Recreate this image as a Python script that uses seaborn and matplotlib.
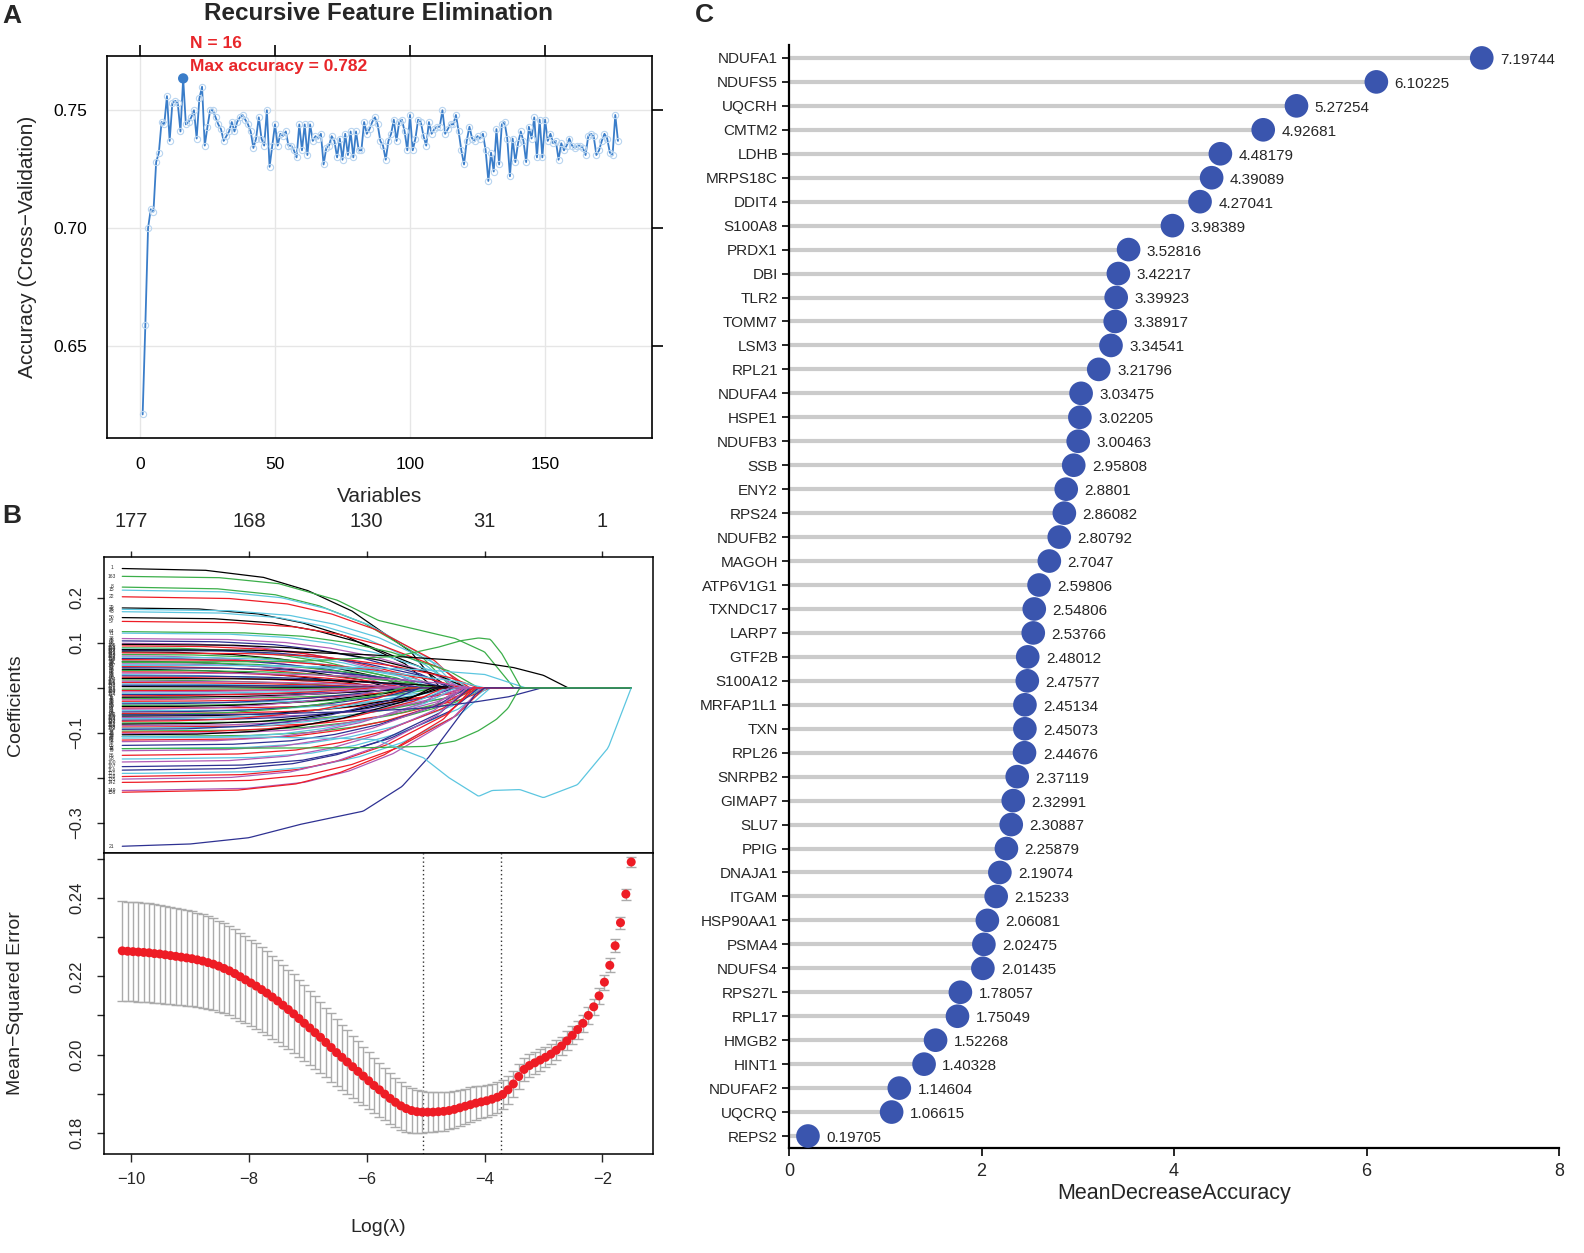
import numpy as np
import pandas as pd
import matplotlib
matplotlib.use("Agg")
import matplotlib.pyplot as plt
import seaborn as sns

sns.set_theme(style="white")
plt.rcParams["font.family"] = ["Liberation Sans", "DejaVu Sans"]
plt.rcParams["axes.unicode_minus"] = True

# ---------------- Panel A data: RFE accuracy by number of variables ----------------
RFE_ACCURACY = [
    0.621, 0.659, 0.700, 0.708, 0.707, 0.728, 0.732, 0.745, 0.744, 0.756,
    0.737, 0.753, 0.754, 0.753, 0.741, 0.7635, 0.744, 0.745, 0.747, 0.750,
    0.738, 0.755, 0.760, 0.735, 0.743, 0.750, 0.750, 0.747, 0.744, 0.742,
    0.737, 0.739, 0.741, 0.745, 0.741, 0.745, 0.747, 0.748, 0.746, 0.744,
    0.741, 0.734, 0.738, 0.747, 0.738, 0.735, 0.750, 0.726, 0.735, 0.744,
    0.735, 0.740, 0.739, 0.741, 0.735, 0.735, 0.733, 0.730, 0.744, 0.733,
    0.744, 0.731, 0.744, 0.737, 0.739, 0.738, 0.740, 0.727, 0.734, 0.735,
    0.739, 0.737, 0.730, 0.738, 0.729, 0.740, 0.731, 0.741, 0.730, 0.741,
    0.733, 0.733, 0.745, 0.740, 0.742, 0.745, 0.747, 0.744, 0.737, 0.735,
    0.729, 0.737, 0.740, 0.746, 0.737, 0.745, 0.746, 0.741, 0.733, 0.748,
    0.733, 0.738, 0.746, 0.745, 0.739, 0.735, 0.745, 0.740, 0.742, 0.743,
    0.743, 0.750, 0.740, 0.742, 0.744, 0.744, 0.748, 0.741, 0.733, 0.727,
    0.737, 0.743, 0.738, 0.737, 0.739, 0.738, 0.740, 0.733, 0.720, 0.732,
    0.724, 0.742, 0.727, 0.744, 0.745, 0.738, 0.722, 0.738, 0.728, 0.736,
    0.741, 0.737, 0.728, 0.743, 0.738, 0.747, 0.730, 0.746, 0.730, 0.746,
    0.737, 0.740, 0.736, 0.737, 0.729, 0.736, 0.733, 0.735, 0.738, 0.735,
    0.734, 0.735, 0.735, 0.734, 0.731, 0.739, 0.740, 0.739, 0.731, 0.733,
    0.737, 0.740, 0.738, 0.732, 0.731, 0.748, 0.737,
]
RFE_BEST_N = 16
RFE_TEXT = ["N = 16", "Max accuracy = 0.782"]

# ---------------- Panel B data: LASSO ----------------
LOGLAM_FIRST, LOGLAM_LAST = -10.15, -1.51
MSE_MEAN = [
    0.2265, 0.2264, 0.2263, 0.2262, 0.2261, 0.2260, 0.2258, 0.2257, 0.2255, 0.2253,
    0.2251, 0.2249, 0.2247, 0.2245, 0.2242, 0.2239, 0.2235, 0.2231, 0.2226, 0.2220,
    0.2214, 0.2207, 0.2199, 0.2191, 0.2183, 0.2175, 0.2166, 0.2157, 0.2147, 0.2137,
    0.2126, 0.2115, 0.2104, 0.2092, 0.2080, 0.2068, 0.2056, 0.2044, 0.2031, 0.2018,
    0.2005, 0.1993, 0.1981, 0.1969, 0.1957, 0.1945, 0.1933, 0.1921, 0.1910, 0.1899,
    0.1888, 0.1878, 0.1869, 0.1862, 0.1857, 0.1854, 0.1853, 0.1853, 0.1853, 0.1854,
    0.1855, 0.1857, 0.1860, 0.1864, 0.1868, 0.1872, 0.1876, 0.1879, 0.1882, 0.1886,
    0.1891, 0.1898, 0.1910, 0.1925, 0.1944, 0.1962, 0.1972, 0.1979, 0.1986, 0.1993,
    0.2001, 0.2011, 0.2022, 0.2035, 0.2049, 0.2064, 0.2080, 0.2100, 0.2122, 0.2150,
    0.2185, 0.2228, 0.2278, 0.2337, 0.2410, 0.2492,
]
MSE_SE = [
    0.0127, 0.0127, 0.0127, 0.0127, 0.0126, 0.0126, 0.0126, 0.0125, 0.0125, 0.0124, 0.0124, 0.0123, 0.0122,
    0.0121, 0.0120, 0.0119, 0.0118, 0.0117, 0.0116, 0.0115, 0.0114, 0.0113, 0.0112, 0.0111, 0.0110, 0.0109,
    0.0108, 0.0107, 0.0106, 0.0105, 0.0104, 0.0102, 0.0101, 0.0099, 0.0097, 0.0095, 0.0093, 0.0091, 0.0089,
    0.0087, 0.0085, 0.0083, 0.0081, 0.0079, 0.0077, 0.0075, 0.0073, 0.0071, 0.0069, 0.0067, 0.0065, 0.0063,
    0.0061, 0.0059, 0.0057, 0.0055, 0.0053, 0.0052, 0.0051, 0.0050, 0.0049, 0.0048, 0.0047, 0.0046, 0.0045,
    0.0044, 0.0043, 0.0042, 0.0041, 0.0040, 0.0039, 0.0038, 0.0036, 0.0034, 0.0032, 0.0030, 0.0029, 0.0028,
    0.0027, 0.0026, 0.0025, 0.0025, 0.0024, 0.0024, 0.0023, 0.0023, 0.0022, 0.0022, 0.0021, 0.0020, 0.0019,
    0.0018, 0.0017, 0.0015, 0.0014, 0.0012,
]
LAMBDA_MIN = -5.04
LAMBDA_1SE = -3.72
NVARS_POS = [-10, -8, -6, -4, -2]
NVARS_LABELS = ["177", "168", "130", "31", "1"]

# coefficient paths: starting coefficient, log(lambda) where it reaches 0, colour code
PATH_START = [
    0.267, 0.225, 0.218, 0.203, 0.179, 0.175, 0.170, 0.157, 0.148, 0.125, 0.122,
    0.110, 0.105, 0.100, 0.097, 0.094, 0.090, 0.087, 0.084, 0.081, 0.078,
    0.075, 0.072, 0.069, 0.066, 0.063, 0.060, 0.057, 0.054, 0.051, 0.048,
    0.045, 0.042, 0.039, 0.036, 0.033, 0.030, 0.027, 0.024, 0.021, 0.018,
    0.015, 0.012, 0.009, 0.006, 0.003, -0.003, -0.006, -0.009, -0.012, -0.015,
    -0.018, -0.021, -0.024, -0.027, -0.030, -0.033, -0.036, -0.039, -0.042, -0.045,
    -0.048, -0.051, -0.054, -0.057, -0.060, -0.063, -0.066, -0.069, -0.072, -0.075,
    -0.078, -0.081, -0.084, -0.087, -0.090, -0.093, -0.096, -0.099, -0.102, -0.105,
    -0.108, -0.112, -0.116, -0.120, -0.128, -0.135, -0.140, -0.150, -0.158, -0.165,
    -0.175, -0.183, -0.190, -0.197, -0.203, -0.210, -0.228, -0.232,
]
PATH_ZERO = [
    -4.75, -4.55, -4.45, -4.35, -4.85, -4.30, -4.50, -4.60, -4.25, -4.10, -4.35,
    -4.40, -4.60, -5.00, -4.30, -4.80, -5.20, -4.90, -4.50, -5.30, -4.10,
    -5.00, -5.50, -4.70, -5.20, -4.40, -5.60, -4.90, -5.10, -4.00, -5.40,
    -4.60, -5.80, -4.80, -5.30, -4.20, -5.90, -5.00, -5.50, -4.50, -6.00,
    -5.20, -5.70, -6.20, -5.40, -6.40, -6.30, -5.50, -6.10, -5.60, -4.90,
    -5.90, -5.30, -4.70, -5.80, -5.00, -4.40, -5.50, -4.80, -5.20, -4.10,
    -5.60, -4.60, -5.10, -4.30, -5.40, -4.70, -4.00, -5.00, -4.50, -5.30,
    -4.20, -4.80, -4.40, -3.90, -4.60, -5.10, -4.10, -4.70, -4.30, -4.90,
    -4.00, -4.50, -4.20, -4.60, -4.30, -4.05, -4.40, -4.20, -3.95, -4.35,
    -4.10, -4.25, -3.90, -4.15, -4.30, -4.00, -4.05, -4.20,
]
PATH_COLOR = (
    "kgcrkcckrgc"
    "mbmkrgcbkr"
    "gmcbrkgmcr"
    "bkgrmcbrkg"
    "mrcbkgrmcb"
    "rkgmrcbgkr"
    "mcbrgkmcbr"
    "gkmrcbgrmk"
    "gcrmbcmrcm"
    "bbcrmrmr"
)
# typical shrinkage profile: fraction of start coefficient vs distance to zero point
SHRINK_DIST = [0.0, 0.25, 0.5, 1.0, 1.5, 2.25, 3.0, 4.0, 6.0]
SHRINK_FRAC = [0.0, 0.15, 0.30, 0.47, 0.64, 0.81, 0.92, 0.98, 1.0]

# individually traced paths (log lambda, coefficient, colour)
SPECIAL_PATHS = {
    "green_top": ([-10.15, -8.5, -7.5, -6.5, -5.8, -5.0, -4.5, -4.0, -3.5, -1.51],
                  [0.248, 0.245, 0.232, 0.195, 0.150, 0.125, 0.110, 0.080, 0.0, 0.0], "g"),
    "black_long": ([-10.15, -8.0, -6.0, -5.0, -4.2, -3.5, -3.0, -2.58, -1.51],
                   [0.085, 0.084, 0.074, 0.066, 0.059, 0.045, 0.028, 0.0, 0.0], "k"),
    "cyan_long": ([-10.15, -8.0, -6.0, -5.0, -4.0, -3.3, -1.51],
                  [0.050, 0.050, 0.045, 0.040, 0.030, 0.0, 0.0], "c"),
    "blue_long": ([-10.15, -8.0, -6.0, -5.0, -4.2, -3.6, -3.03, -1.51],
                  [-0.060, -0.059, -0.052, -0.045, -0.032, -0.020, 0.0, 0.0], "b"),
    "green_neg": ([-10.15, -8.0, -6.0, -5.0, -4.5, -4.1, -3.8, -3.6, -3.4, -1.51],
                  [-0.135, -0.134, -0.133, -0.130, -0.118, -0.095, -0.070, -0.045, 0.0, 0.0], "g"),
    "blue_bottom": ([-10.15, -9.0, -8.0, -7.15, -6.06, -5.4, -4.96, -4.53, -4.16, -4.0, -1.51],
                    [-0.352, -0.347, -0.333, -0.304, -0.274, -0.219, -0.156, -0.081, -0.015, 0.0, 0.0], "b"),
    "cyan_wave": ([-10.15, -8.0, -6.5, -5.84, -5.04, -4.6, -4.1, -3.87, -3.4, -3.0, -2.42, -1.9, -1.51],
                  [-0.108, -0.109, -0.112, -0.115, -0.155, -0.200, -0.241, -0.228, -0.226, -0.244, -0.215, -0.133, 0.0], "c"),
    "green_rise": ([-10.15, -8.0, -7.0, -5.5, -4.8, -4.4, -4.1, -3.9, -3.7, -3.38, -1.51],
                   [0.058, 0.058, 0.060, 0.070, 0.090, 0.105, 0.111, 0.108, 0.075, 0.0, 0.0], "g"),
}
COLOR_MAP = {"k": "#000000", "r": "#EE1C25", "g": "#3BAE49", "b": "#2E3192",
             "c": "#5CC6E0", "m": "#B05BB5"}

# ---------------- Panel C data: random forest importance ----------------
GENES = ["NDUFA1", "NDUFS5", "UQCRH", "CMTM2", "LDHB", "MRPS18C", "DDIT4", "S100A8",
         "PRDX1", "DBI", "TLR2", "TOMM7", "LSM3", "RPL21", "NDUFA4", "HSPE1", "NDUFB3",
         "SSB", "ENY2", "RPS24", "NDUFB2", "MAGOH", "ATP6V1G1", "TXNDC17", "LARP7",
         "GTF2B", "S100A12", "MRFAP1L1", "TXN", "RPL26", "SNRPB2", "GIMAP7", "SLU7",
         "PPIG", "DNAJA1", "ITGAM", "HSP90AA1", "PSMA4", "NDUFS4", "RPS27L", "RPL17",
         "HMGB2", "HINT1", "NDUFAF2", "UQCRQ", "REPS2"]
MDA = [7.19744, 6.10225, 5.27254, 4.92681, 4.48179, 4.39089, 4.27041, 3.98389,
       3.52816, 3.42217, 3.39923, 3.38917, 3.34541, 3.21796, 3.03475, 3.02205, 3.00463,
       2.95808, 2.8801, 2.86082, 2.80792, 2.7047, 2.59806, 2.54806, 2.53766,
       2.48012, 2.47577, 2.45134, 2.45073, 2.44676, 2.37119, 2.32991, 2.30887,
       2.25879, 2.19074, 2.15233, 2.06081, 2.02475, 2.01435, 1.78057, 1.75049,
       1.52268, 1.40328, 1.14604, 1.06615, 0.19705]

W, H = 1584, 1253
fig = plt.figure(figsize=(W / 100, H / 100), dpi=100)
fig.patch.set_facecolor("white")


def box(x0, y0, x1, y1):
    return [x0 / W, 1 - y1 / H, (x1 - x0) / W, (y1 - y0) / H]


# ======================= Panel A =======================
axA = fig.add_axes(box(107, 56, 652, 438))
dfA = pd.DataFrame({"n": np.arange(1, len(RFE_ACCURACY) + 1), "acc": RFE_ACCURACY})
sns.lineplot(data=dfA, x="n", y="acc", ax=axA, color="#3A7DC9", lw=1.3,
             marker="o", markersize=4.5, markerfacecolor="none",
             markeredgecolor="#B9D5F0", markeredgewidth=0.8, zorder=3)
best = dfA[dfA["n"] == RFE_BEST_N]
sns.scatterplot(data=best, x="n", y="acc", ax=axA, color="#3A7DC9", s=55,
                edgecolor="none", zorder=4)
axA.set_xlim(-12.2, 189.6)
axA.set_ylim(0.611, 0.773)
axA.set_xticks([0, 50, 100, 150])
axA.set_yticks([0.65, 0.70, 0.75])
axA.set_yticklabels(["0.65", "0.70", "0.75"])
axA.grid(True, color="#E6E6E6", lw=1)
axA.set_axisbelow(True)
axA.tick_params(axis="both", direction="out", length=8, width=1.2, colors="black",
                top=True, right=True, left=False, bottom=False, labelsize=12.5, pad=6)
for s in axA.spines.values():
    s.set_color("black"); s.set_linewidth(1.2)
axA.set_xlabel("Variables", fontsize=15)
axA.set_ylabel("Accuracy (Cross\u2212Validation)", fontsize=15)
axA.xaxis.set_label_coords(0.5, -0.128)
axA.yaxis.set_label_coords(-0.128, 0.5)
axA.text(18.5, 0.7785, RFE_TEXT[0], color="#E8262A", fontsize=12.5, fontweight="bold",
         va="center", ha="left", clip_on=False)
axA.text(18.5, 0.7685, RFE_TEXT[1], color="#E8262A", fontsize=12.5, fontweight="bold",
         va="center", ha="left", clip_on=False)
fig.text(379 / W, 1 - 13 / H, "Recursive Feature Elimination", fontsize=17.5,
         fontweight="bold", ha="center", va="center")

# ======================= Panel B (top): coefficient paths =======================
axBt = fig.add_axes(box(104, 557, 653, 853))
grid = np.linspace(LOGLAM_FIRST, LOGLAM_LAST, 300)
rows = []
palette = {}
for i, (st, z) in enumerate(zip(PATH_START, PATH_ZERO)):
    frac = np.interp(z - grid, SHRINK_DIST, SHRINK_FRAC, left=0.0, right=1.0)
    key = f"p{i}"
    palette[key] = COLOR_MAP[PATH_COLOR[i % len(PATH_COLOR)]]
    rows.append(pd.DataFrame({"loglam": grid, "coef": st * frac, "path": key}))
for name, (xs, ys, c) in SPECIAL_PATHS.items():
    palette[name] = COLOR_MAP[c]
    rows.append(pd.DataFrame({"loglam": grid, "coef": np.interp(grid, xs, ys), "path": name}))
dfP = pd.concat(rows, ignore_index=True)
sns.lineplot(data=dfP, x="loglam", y="coef", hue="path", palette=palette, ax=axBt,
             estimator=None, sort=False, legend=False, lw=0.9)
# tiny variable labels at the left end
starts = list(PATH_START) + [v[1][0] for v in SPECIAL_PATHS.values()]
for j, st in enumerate(starts):
    axBt.text(-10.33, st, str((j * 7) % 177 + 1), fontsize=3.6, ha="center", va="center",
              color="#333333")
axBt.set_xlim(-10.46, -1.14)
axBt.set_ylim(-0.367, 0.291)
axBt.set_yticks([-0.3, -0.2, -0.1, 0.0, 0.1, 0.2])
axBt.set_yticklabels(["\u22120.3", "", "\u22120.1", "", "0.1", "0.2"], rotation=90, va="center")
axBt.xaxis.tick_top()
axBt.set_xticks(NVARS_POS)
axBt.set_xticklabels(NVARS_LABELS)
axBt.tick_params(axis="x", top=True, bottom=False, labeltop=True, labelbottom=False,
                 direction="out", length=4, width=1, labelsize=14.5, pad=15)
axBt.tick_params(axis="y", left=True, direction="out", length=5, width=1, labelsize=12, pad=9)
axBt.set_xlabel("")
axBt.set_ylabel("Coefficients", fontsize=14)
axBt.yaxis.set_label_coords(-0.146, 0.5)
for s in axBt.spines.values():
    s.set_color("black"); s.set_linewidth(1.1)

# ======================= Panel B (bottom): CV MSE =======================
axBb = fig.add_axes(box(104, 853, 653, 1154))
loglam = np.linspace(LOGLAM_FIRST, LOGLAM_LAST, len(MSE_MEAN))
dfM = pd.DataFrame({"loglam": loglam, "mse": MSE_MEAN, "se": MSE_SE})
axBb.errorbar(dfM["loglam"], dfM["mse"], yerr=dfM["se"], fmt="none", ecolor="#ABABAB",
              elinewidth=1.0, capsize=3.6, capthick=1.0, zorder=2)
sns.scatterplot(data=dfM, x="loglam", y="mse", ax=axBb, color="#EE1C25", s=42,
                edgecolor="none", zorder=3)
axBb.axvline(LAMBDA_MIN, ls=(0, (1, 2)), color="#333333", lw=1.0, zorder=1)
axBb.axvline(LAMBDA_1SE, ls=(0, (1, 2)), color="#333333", lw=1.0, zorder=1)
axBb.set_xlim(-10.46, -1.14)
axBb.set_ylim(0.1746, 0.2515)
axBb.set_xticks([-10, -8, -6, -4, -2])
axBb.set_xticklabels(["\u221210", "\u22128", "\u22126", "\u22124", "\u22122"])
yt = np.round(np.arange(0.18, 0.2501, 0.01), 2)
axBb.set_yticks(yt)
axBb.set_yticklabels(["0.18", "", "0.20", "", "0.22", "", "0.24", ""], rotation=90, va="center")
axBb.tick_params(axis="x", bottom=True, direction="out", length=6, width=1, labelsize=12, pad=7)
axBb.tick_params(axis="y", left=True, direction="out", length=5, width=1, labelsize=12, pad=9)
axBb.set_xlabel("Log(\u03bb)", fontsize=14)
axBb.set_ylabel("Mean\u2212Squared Error", fontsize=14)
axBb.xaxis.set_label_coords(0.5, -0.216)
axBb.yaxis.set_label_coords(-0.146, 0.5)
for s in axBb.spines.values():
    s.set_color("black"); s.set_linewidth(1.1)

# ======================= Panel C =======================
axC = fig.add_axes(box(789, 45, 1559, 1148))
dfC = pd.DataFrame({"gene": GENES, "mda": MDA, "pos": np.arange(len(GENES))})
axC.hlines(dfC["pos"], 0, dfC["mda"], color="#CBCBCB", lw=3.0, zorder=1)
sns.scatterplot(data=dfC, x="mda", y="pos", ax=axC, color="#3A55AE", s=290,
                edgecolor="none", zorder=3)
for _, r in dfC.iterrows():
    axC.text(r["mda"] + 0.19, r["pos"] + 0.08, repr(r["mda"]), fontsize=11,
             ha="left", va="center")
axC.set_xlim(0, 8)
axC.set_ylim(len(GENES) - 0.5, -0.54)
axC.set_yticks(dfC["pos"])
axC.set_yticklabels(GENES)
axC.set_xticks([0, 2, 4, 6, 8])
axC.tick_params(axis="y", left=True, direction="out", length=5, width=1.4, labelsize=11, pad=3)
axC.tick_params(axis="x", bottom=True, direction="out", length=6, width=1.4, labelsize=13, pad=5)
axC.set_ylabel("")
axC.set_xlabel("MeanDecreaseAccuracy", fontsize=15.5)
axC.xaxis.set_label_coords(0.5, -0.032)
for k in ["top", "right"]:
    axC.spines[k].set_visible(False)
for k in ["left", "bottom"]:
    axC.spines[k].set_color("black"); axC.spines[k].set_linewidth(1.6)

# panel letters
fig.text(12 / W, 1 - 16 / H, "A", fontsize=19, fontweight="bold", ha="center", va="center")
fig.text(12 / W, 1 - 516 / H, "B", fontsize=19, fontweight="bold", ha="center", va="center")
fig.text(704 / W, 1 - 15 / H, "C", fontsize=19, fontweight="bold", ha="center", va="center")

fig.savefig("out.png", dpi=100, facecolor="white")
